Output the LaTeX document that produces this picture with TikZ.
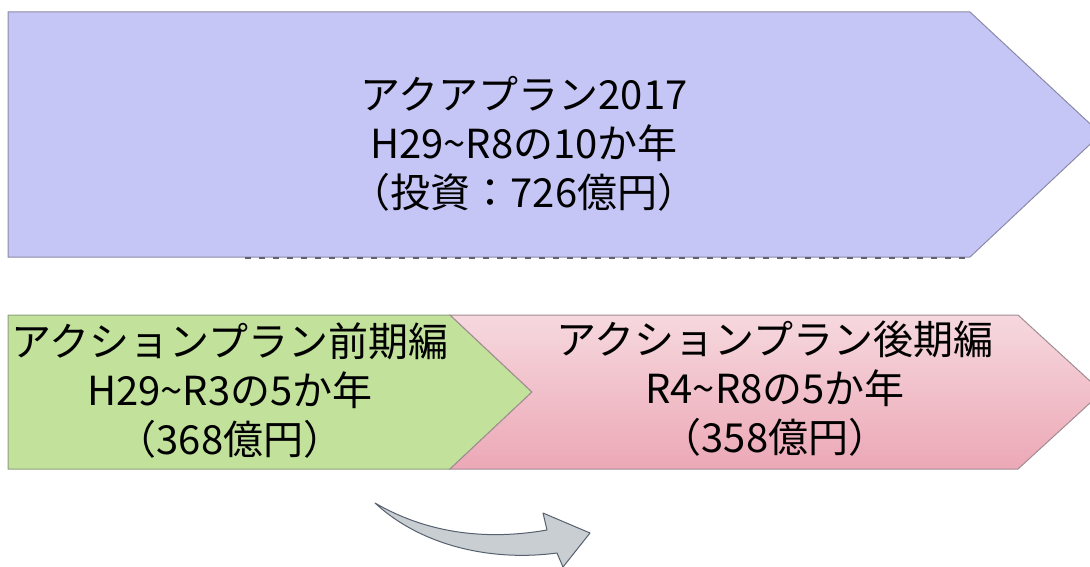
\documentclass[tikz,border=0pt]{standalone}
\usepackage{fontspec}
\setmainfont{Noto Sans CJK JP}
\usetikzlibrary{shadings}
\definecolor{lav}{HTML}{C6C6F6}
\definecolor{lavline}{HTML}{8A8AA6}
\definecolor{grn}{HTML}{C2E29C}
\definecolor{grnline}{HTML}{8E9E7E}
\definecolor{pinktop}{HTML}{F6D8DE}
\definecolor{pinkbot}{HTML}{ECA8B6}
\definecolor{pinkline}{HTML}{A08C92}
\definecolor{arrfill}{HTML}{C9CED3}
\definecolor{arrline}{HTML}{56606E}
\tikzset{
  lbl/.style={font=\fontsize{40}{49}\selectfont, align=center, text=black, inner sep=0pt},
  shapeline/.style={line width=1pt, line join=miter}
}
\begin{document}
\begin{tikzpicture}[x=1pt,y=-1pt]
\useasboundingbox (0,0) rectangle (1090,567);
% top arrow
\draw[shapeline, draw=lavline, fill=lav] (8,12) -- (970,12) -- (1101,134) -- (970,257) -- (8,257) -- cycle;
\draw[line width=1.2pt, draw=lavline!70!black, dash pattern=on 6pt off 8pt] (245,258) -- (968,258);
% green chevron
\draw[shapeline, draw=grnline, fill=grn] (8,315) -- (450,315) -- (532,392) -- (450,469) -- (8,469) -- cycle;
% pink chevron
\shade[top color=pinktop, bottom color=pinkbot] (450,315) -- (1018,315) -- (1102,392) -- (1018,469) -- (450,469) -- (532,392) -- cycle;
\draw[shapeline, draw=pinkline] (450,315) -- (1018,315) -- (1102,392) -- (1018,469) -- (450,469) -- (532,392) -- cycle;
% labels
\node[lbl] (top) at (524,144) {アクアプラン2017\\H29\char"7E R8の10か年\\（投資：726億円）};
\node[lbl] (early) at (230,391) {アクションプラン前期編\\H29\char"7E R3の5か年\\（368億円）};
\node[lbl] (late) at (775,389) {アクションプラン後期編\\R4\char"7E R8の5か年\\（358億円）};
% curved arrow
\draw[line width=1pt, draw=arrline, fill=arrfill, line join=round]
  (375,503) .. controls (430,535) and (490,540) .. (547,530)
  -- (543,513) -- (590,533) -- (563,567)
  -- (557,553) .. controls (490,562) and (420,545) .. (375,503) -- cycle;
\end{tikzpicture}
\end{document}
